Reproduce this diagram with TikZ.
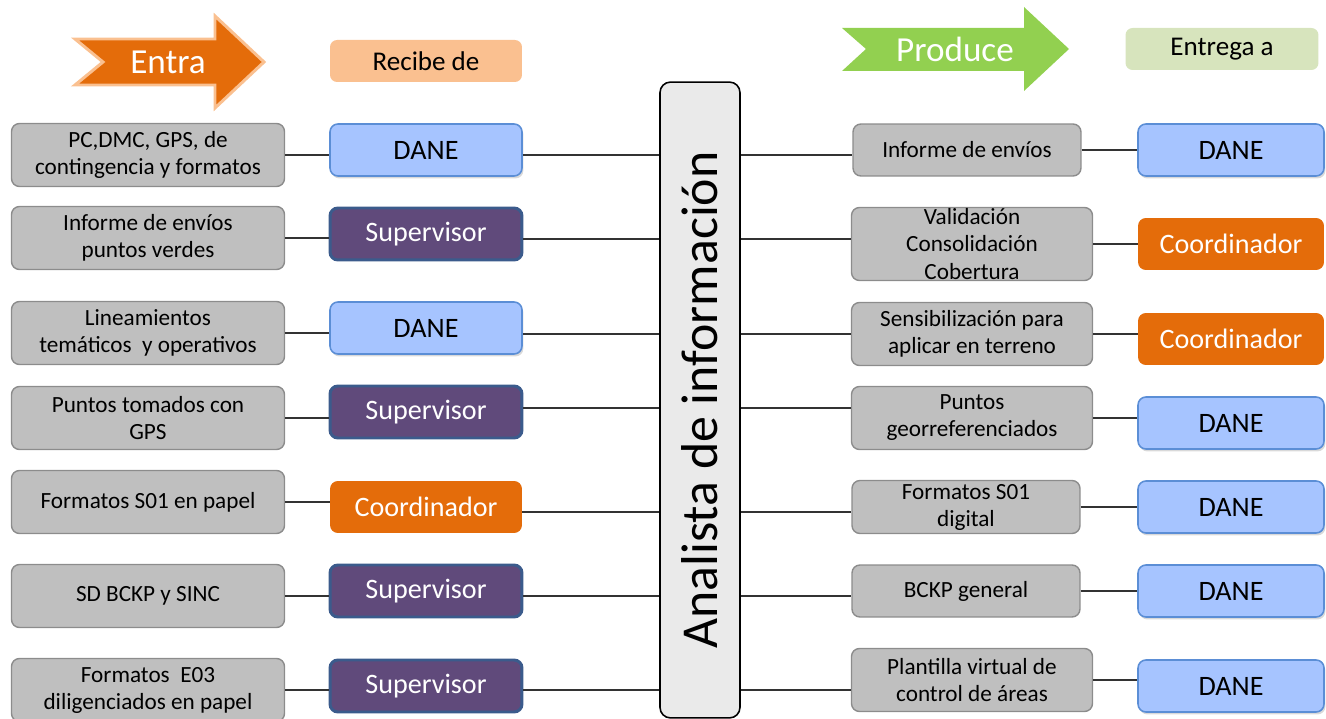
\documentclass[tikz,border=0pt]{standalone}
\usepackage{fontspec}
\setmainfont{Carlito}
\usepackage{tikz}
\usetikzlibrary{shadows}

\definecolor{itemgray}{HTML}{BFBFBF}
\definecolor{itemline}{HTML}{8C8C8C}
\definecolor{danefill}{HTML}{A6C4FF}
\definecolor{daneline}{HTML}{5B8ED6}
\definecolor{supfill}{HTML}{604A7B}
\definecolor{supline}{HTML}{3B5B8C}
\definecolor{coordfill}{HTML}{E46C0A}
\definecolor{recibefill}{HTML}{FAC090}
\definecolor{entregafill}{HTML}{D7E4BD}
\definecolor{producefill}{HTML}{92D050}
\definecolor{anafill}{HTML}{EAEAEA}

\begin{document}
\begin{tikzpicture}[x=0.02cm, y=-0.02cm,
  every node/.style={align=center, inner sep=0pt, font=\fontsize{13.2}{15.4}\selectfont},
  item/.style={draw=itemline, fill=itemgray, line width=0.8pt, rounded corners=4.5pt},
  who/.style={rounded corners=4.5pt, minimum height=1.04cm, font=\fontsize{16}{19}\selectfont},
  dane/.style={who, draw=daneline, fill=danefill, line width=0.9pt,
    drop shadow={shadow xshift=0.8pt, shadow yshift=-1.4pt, opacity=0.3}},
  sup/.style={who, draw=supline, fill=supfill, line width=1.7pt, text=white},
  coord/.style={who, fill=coordfill, text=white},
  head/.style={rounded corners=4pt, minimum height=0.84cm, font=\fontsize{15.4}{18}\selectfont},
  link/.style={draw=black!80, line width=0.8pt}]
\useasboundingbox (0,0) rectangle (1326,719);

% top arrows and headers
\draw[draw=recibefill, line width=1.7pt, fill=coordfill] (75,39) -- (215,39) -- (215,16) -- (264,62) -- (215,108) -- (215,85) -- (75,85) -- (103,62) -- cycle;
\node[text=white, font=\fontsize{20}{24}\selectfont] (entra) at (168,62) {Entra};
\fill[producefill] (842,28) -- (1024,28) -- (1024,7) -- (1069,49) -- (1024,91) -- (1024,71) -- (842,71) -- (866,49) -- cycle;
\node[text=white, font=\fontsize{20}{24}\selectfont] (produce) at (955,49) {Produce};
\node[head, fill=recibefill, minimum width=3.84cm] (recibe) at (426,61) {Recibe de};
\node[head, fill=entregafill, minimum width=3.86cm] (entrega) at (1222,49) {Entrega a};

% central box
\node[draw, line width=0.9pt, fill=anafill, rounded corners=6pt, minimum width=1.6cm, minimum height=12.72cm] (ana) at (700,400) {};
\node[rotate=90, font=\fontsize{29.5}{34}\selectfont] (analabel) at (ana) {Analista de información};
\coordinate (a1) at (700,155);
\coordinate (a2) at (700,239);
\coordinate (a3) at (700,334);
\coordinate (a4) at (700,408);
\coordinate (a5) at (700,512);
\coordinate (a6) at (700,596);
\coordinate (a7) at (700,690);

% what comes in
\tikzset{every node/.append style={minimum width=5.46cm, minimum height=1.26cm}}
\node[item] (l1) at (148,155) {PC,DMC, GPS, de\\contingencia y formatos};
\node[item] (l2) at (148,238) {Informe de envíos\\puntos verdes};
\node[item] (l3) at (148,333) {Lineamientos\\temáticos~ y operativos};
\node[item] (l4) at (148,418) {Puntos tomados con\\GPS};
\node[item] (l5) at (148,502) {Formatos S01 en papel};
\node[item] (l6) at (148,596) {SD BCKP y SINC};
\node[item] (l7) at (148,690) {Formatos~ E03\\diligenciados en papel};

% who sends it
\tikzset{every node/.append style={minimum width=3.84cm}}
\node[dane] (m1) at (426,150) {DANE};
\node[sup] (m2) at (426,234) {Supervisor};
\node[dane] (m3) at (426,328) {DANE};
\node[sup] (m4) at (426,412) {Supervisor};
\node[coord] (m5) at (426,507) {Coordinador};
\node[sup] (m6) at (426,591) {Supervisor};
\node[sup] (m7) at (426,686) {Supervisor};

% what goes out
\tikzset{every node/.append style={minimum width=4.82cm, minimum height=1.26cm}}
\node[item, minimum width=4.56cm, minimum height=1.04cm] (g1) at (967,150) {Informe de envíos};
\node[item, minimum height=1.46cm] (g2) at (972,244) {Validación\\Consolidación\\Cobertura};
\node[item] (g3) at (972,334) {Sensibilización para\\aplicar en terreno};
\node[item] (g4) at (972,418) {Puntos\\georreferenciados};
\node[item, minimum width=4.56cm, minimum height=1.06cm] (g5) at (966,507) {Formatos S01\\digital};
\node[item, minimum width=4.56cm, minimum height=1.04cm] (g6) at (966,591) {BCKP general};
\node[item] (g7) at (972,680) {Plantilla virtual de\\control de áreas};

% who gets it
\tikzset{every node/.append style={minimum width=3.72cm, minimum height=1.04cm}}
\node[dane] (e1) at (1231,150) {DANE};
\node[coord] (e2) at (1231,244) {Coordinador};
\node[coord] (e3) at (1231,339) {Coordinador};
\node[dane] (e4) at (1231,423) {DANE};
\node[dane] (e5) at (1231,507) {DANE};
\node[dane] (e6) at (1231,591) {DANE};
\node[dane] (e7) at (1231,686) {DANE};

% links
\draw[link] (l1.east) -- (l1.east -| m1.west);
\draw[link] (l2.east) -- (l2.east -| m2.west);
\draw[link] (l3.east) -- (l3.east -| m3.west);
\draw[link] (l4.east) -- (l4.east -| m4.west);
\draw[link] (l5.east) -- (l5.east -| m5.west);
\draw[link] (l6.east) -- (l6.east -| m6.west);
\draw[link] (l7.east) -- (l7.east -| m7.west);
\draw[link] (m1.east |- a1) -- (a1 -| ana.west);
\draw[link] (m2.east |- a2) -- (a2 -| ana.west);
\draw[link] (m3.east |- a3) -- (a3 -| ana.west);
\draw[link] (m4.east |- a4) -- (a4 -| ana.west);
\draw[link] (m5.east |- a5) -- (a5 -| ana.west);
\draw[link] (m6.east |- a6) -- (a6 -| ana.west);
\draw[link] (m7.east |- a7) -- (a7 -| ana.west);
\draw[link] (a1 -| ana.east) -- (a1 -| g1.west);
\draw[link] (a2 -| ana.east) -- (a2 -| g2.west);
\draw[link] (a3 -| ana.east) -- (a3 -| g3.west);
\draw[link] (a4 -| ana.east) -- (a4 -| g4.west);
\draw[link] (a5 -| ana.east) -- (a5 -| g5.west);
\draw[link] (a6 -| ana.east) -- (a6 -| g6.west);
\draw[link] (a7 -| ana.east) -- (a7 -| g7.west);
\draw[link] (g1.east) -- (g1.east -| e1.west);
\draw[link] (g2.east) -- (g2.east -| e2.west);
\draw[link] (g3.east) -- (g3.east -| e3.west);
\draw[link] (g4.east) -- (g4.east -| e4.west);
\draw[link] (g5.east) -- (g5.east -| e5.west);
\draw[link] (g6.east) -- (g6.east -| e6.west);
\draw[link] (g7.east) -- (g7.east -| e7.west);
\end{tikzpicture}
\end{document}
